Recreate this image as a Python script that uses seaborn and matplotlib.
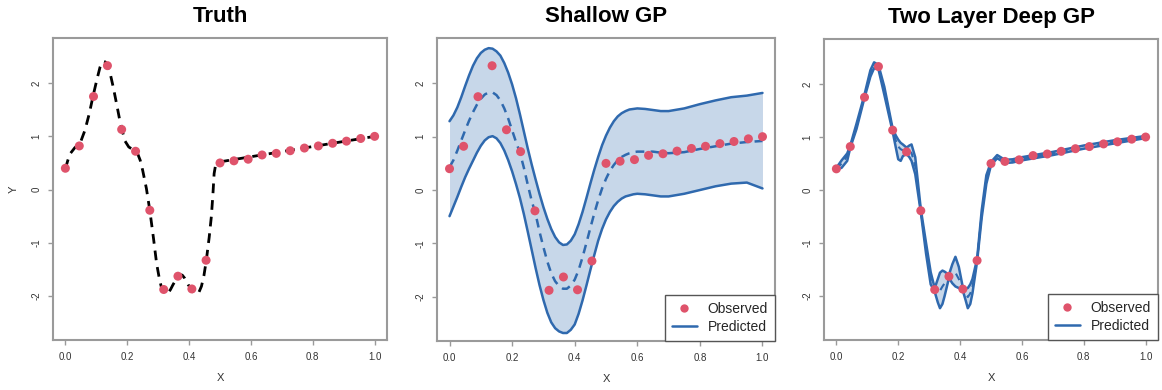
import numpy as np
import pandas as pd
import matplotlib
matplotlib.use("Agg")
import matplotlib.pyplot as plt
from matplotlib.lines import Line2D
import seaborn as sns

# ---------------- data ----------------
obs_x = [0.000, 0.045, 0.091, 0.136, 0.182, 0.227, 0.273, 0.318, 0.364, 0.409, 0.455, 0.500,
         0.545, 0.591, 0.636, 0.682, 0.727, 0.773, 0.818, 0.864, 0.909, 0.955, 1.000]
obs_y = [0.40, 0.82, 1.75, 2.33, 1.13, 0.72, -0.39, -1.88, -1.63, -1.87, -1.33, 0.50,
         0.54, 0.57, 0.65, 0.68, 0.73, 0.78, 0.82, 0.87, 0.91, 0.96, 1.00]

truth_x = [0.000, 0.008, 0.015, 0.031, 0.047, 0.063, 0.077, 0.090, 0.102, 0.112, 0.118, 0.123,
           0.129, 0.135, 0.145, 0.155, 0.166, 0.176, 0.192, 0.205, 0.219, 0.234, 0.242, 0.250,
           0.262, 0.273, 0.285, 0.295, 0.304, 0.311, 0.320, 0.332, 0.340, 0.348, 0.360, 0.370,
           0.378, 0.386, 0.397, 0.408, 0.417, 0.424, 0.432, 0.440, 0.448, 0.456, 0.465, 0.472,
           0.477, 0.481, 0.486, 0.499, 1.000]
truth_y = [0.39, 0.55, 0.67, 0.79, 0.86, 1.11, 1.42, 1.77, 2.07, 2.30, 2.38, 2.41,
           2.40, 2.36, 2.18, 1.92, 1.60, 1.30, 0.92, 0.80, 0.75, 0.67, 0.55, 0.36,
           0.02, -0.39, -0.92, -1.39, -1.68, -1.85, -1.95, -1.95, -1.88, -1.79, -1.67, -1.60,
           -1.61, -1.67, -1.79, -1.88, -1.95, -1.97, -1.93, -1.82, -1.62, -1.32, -0.90, -0.51,
           -0.10, 0.30, 0.47, 0.52, 1.00]

shallow_x = [0.0000, 0.0125, 0.0250, 0.0375, 0.0500, 0.0625, 0.0750, 0.0875, 0.1000, 0.1125,
             0.1250, 0.1375, 0.1500, 0.1625, 0.1750, 0.1875, 0.2000, 0.2125, 0.2250, 0.2375,
             0.2500, 0.2625, 0.2750, 0.2875, 0.3000, 0.3125, 0.3250, 0.3375, 0.3500, 0.3625,
             0.3750, 0.3875, 0.4000, 0.4125, 0.4250, 0.4375, 0.4500, 0.4625, 0.4750, 0.4875,
             0.5000, 0.5125, 0.5250, 0.5375, 0.5500, 0.5625, 0.5750, 0.5875, 0.6000, 0.6250,
             0.6500, 0.6750, 0.7000, 0.7500, 0.8000, 0.8500, 0.9000, 0.9500, 1.0000]
shallow_mean = [0.43, 0.56, 0.74, 0.93, 1.12, 1.30, 1.46, 1.60, 1.71, 1.79,
                1.83, 1.83, 1.78, 1.68, 1.53, 1.34, 1.12, 0.90, 0.70, 0.42,
                0.10, -0.20, -0.45, -0.78, -1.07, -1.34, -1.56, -1.71, -1.80, -1.85,
                -1.85, -1.79, -1.68, -1.50, -1.26, -0.99, -0.71, -0.44, -0.19, 0.03,
                0.21, 0.36, 0.47, 0.56, 0.62, 0.66, 0.69, 0.71, 0.72, 0.72,
                0.72, 0.70, 0.69, 0.71, 0.77, 0.82, 0.87, 0.90, 0.92]
shallow_upper = [1.29, 1.40, 1.55, 1.74, 1.95, 2.15, 2.33, 2.47, 2.57, 2.63,
                 2.66, 2.65, 2.60, 2.52, 2.38, 2.20, 1.98, 1.72, 1.42, 1.10,
                 0.78, 0.48, 0.20, -0.07, -0.32, -0.54, -0.73, -0.88, -0.98, -1.03,
                 -1.02, -0.95, -0.83, -0.64, -0.41, -0.15, 0.12, 0.38, 0.62, 0.84,
                 1.02, 1.17, 1.29, 1.38, 1.44, 1.48, 1.51, 1.52, 1.53, 1.52,
                 1.50, 1.48, 1.48, 1.53, 1.61, 1.68, 1.74, 1.77, 1.82]
shallow_lower = [-0.49, -0.31, -0.13, 0.06, 0.24, 0.40, 0.55, 0.70, 0.83, 0.93,
                 0.99, 1.01, 0.97, 0.88, 0.74, 0.56, 0.35, 0.11, -0.15, -0.45,
                 -0.78, -1.12, -1.46, -1.78, -2.06, -2.30, -2.48, -2.59, -2.65, -2.68,
                 -2.68, -2.62, -2.52, -2.32, -2.07, -1.79, -1.50, -1.22, -0.95, -0.73,
                 -0.55, -0.41, -0.30, -0.22, -0.16, -0.12, -0.10, -0.08, -0.07, -0.08,
                 -0.10, -0.12, -0.12, -0.07, 0.00, 0.07, 0.12, 0.14, 0.03]

deep_x = [0.000, 0.017, 0.035, 0.045, 0.065, 0.090, 0.110, 0.122, 0.136, 0.155, 0.182, 0.193,
          0.200, 0.208, 0.215, 0.227, 0.236, 0.243, 0.255, 0.273, 0.290, 0.305, 0.318, 0.328,
          0.335, 0.343, 0.350, 0.364, 0.375, 0.385, 0.396, 0.409, 0.418, 0.425, 0.433, 0.440,
          0.455, 0.470, 0.485, 0.500, 0.520, 0.545, 0.570, 0.600, 0.700, 0.800, 0.900, 1.000]
deep_mean = [0.40, 0.50, 0.64, 0.82, 1.20, 1.75, 2.20, 2.37, 2.33, 1.88, 1.13, 0.92,
             0.82, 0.77, 0.75, 0.72, 0.73, 0.70, 0.45, -0.39, -1.10, -1.66, -1.88, -1.94,
             -1.90, -1.82, -1.76, -1.63, -1.57, -1.56, -1.68, -1.87, -1.97, -2.02, -1.95, -1.83,
             -1.33, -0.45, 0.20, 0.50, 0.63, 0.54, 0.55, 0.59, 0.69, 0.81, 0.91, 1.00]
deep_upper = [0.42, 0.56, 0.69, 0.84, 1.25, 1.78, 2.26, 2.41, 2.36, 1.95, 1.16, 1.02,
              0.95, 0.89, 0.86, 0.80, 0.84, 0.86, 0.62, -0.36, -1.00, -1.55, -1.85, -1.68,
              -1.56, -1.52, -1.54, -1.60, -1.40, -1.26, -1.45, -1.84, -1.86, -1.85, -1.78, -1.68,
              -1.30, -0.38, 0.28, 0.53, 0.66, 0.57, 0.58, 0.62, 0.72, 0.84, 0.94, 1.02]
deep_lower = [0.38, 0.42, 0.55, 0.80, 1.15, 1.72, 2.14, 2.30, 2.28, 1.80, 1.10, 0.78,
              0.58, 0.55, 0.64, 0.68, 0.62, 0.55, 0.30, -0.42, -1.20, -1.78, -1.92, -2.12,
              -2.23, -2.15, -2.00, -1.66, -1.76, -1.82, -1.85, -1.90, -2.08, -2.23, -2.15, -1.95,
              -1.35, -0.52, 0.12, 0.47, 0.60, 0.51, 0.52, 0.56, 0.66, 0.78, 0.88, 0.98]

titles = ["Truth", "Shallow GP", "Two Layer Deep GP"]
x_ticks = [0.0, 0.2, 0.4, 0.6, 0.8, 1.0]
x_ticklabels = ["0.0", "0.2", "0.4", "0.6", "0.8", "1.0"]
y_ticks = [-2, -1, 0, 1, 2]
y_ticklabels = ["-2", "-1", "0", "1", "2"]
legend_labels = ["Observed", "Predicted"]

# ---------------- style ----------------
sns.set_style("white")
plt.rcParams['font.family'] = ['Liberation Sans', 'DejaVu Sans']

RED = "#DF536B"
BLUE = "#2F69AE"
FILL = "#C7D7E9"
FRAME = "#9A9A9A"

W, H = 1162, 390
fig = plt.figure(figsize=(W / 100, H / 100), dpi=100)
boxes = [(53, 38, 387, 340), (437, 38, 775, 341), (824, 39, 1158, 340)]
axes = []
for (l, t, r, b) in boxes:
    ax = fig.add_axes([l / W, 1 - b / H, (r - l) / W, (b - t) / H])
    axes.append(ax)

obs_df = pd.DataFrame({"x": obs_x, "y": obs_y})
DASH = (0, (3.5, 2.5))

# Panel 1: truth
ax = axes[0]
sns.lineplot(x=truth_x, y=truth_y, ax=ax, color="black", linewidth=2.0, linestyle=DASH,
             sort=False, estimator=None)
sns.scatterplot(data=obs_df, x="x", y="y", ax=ax, color=RED, s=42, edgecolor="none", zorder=5)

# Panel 2: shallow GP
ax = axes[1]
ax.fill_between(shallow_x, shallow_lower, shallow_upper, color=FILL, linewidth=0)
sns.lineplot(x=shallow_x, y=shallow_upper, ax=ax, color=BLUE, linewidth=1.8, estimator=None)
sns.lineplot(x=shallow_x, y=shallow_lower, ax=ax, color=BLUE, linewidth=1.8, estimator=None)
sns.lineplot(x=shallow_x, y=shallow_mean, ax=ax, color=BLUE, linewidth=1.8, linestyle=DASH,
             estimator=None)
sns.scatterplot(data=obs_df, x="x", y="y", ax=ax, color=RED, s=42, edgecolor="none", zorder=5)

# Panel 3: deep GP
ax = axes[2]
ax.fill_between(deep_x, deep_lower, deep_upper, color=FILL, linewidth=0)
sns.lineplot(x=deep_x, y=deep_upper, ax=ax, color=BLUE, linewidth=1.8, estimator=None)
sns.lineplot(x=deep_x, y=deep_lower, ax=ax, color=BLUE, linewidth=1.8, estimator=None)
sns.lineplot(x=deep_x, y=deep_mean, ax=ax, color=BLUE, linewidth=1.5, linestyle=DASH,
             estimator=None)
sns.scatterplot(data=obs_df, x="x", y="y", ax=ax, color=RED, s=42, edgecolor="none", zorder=5)

for i, ax in enumerate(axes):
    ax.set_xlim(-0.04, 1.04)
    ax.set_ylim(-2.83, 2.85)
    ax.set_xticks(x_ticks)
    ax.set_xticklabels(x_ticklabels)
    ax.set_yticks(y_ticks)
    ax.set_yticklabels(y_ticklabels, rotation=90, va="center")
    ax.tick_params(axis="both", direction="out", length=3.5, width=1.0, color=FRAME,
                   labelsize=7, labelcolor="#333333", pad=5, left=True, bottom=True)
    for sp in ax.spines.values():
        sp.set_color(FRAME)
        sp.set_linewidth(1.5)
    ax.set_xlabel("X", fontsize=8, color="#333333", labelpad=8)
    ax.set_ylabel("Y" if i == 0 else "", fontsize=8, color="#333333", labelpad=9)
    ax.grid(False)
    l, t, r, b = boxes[i]
    fig.text((l + r) / 2 / W, 1 - 17 / H, titles[i], fontsize=16, fontweight="bold",
             ha="center", va="center", color="black")

handles = [Line2D([], [], marker="o", linestyle="none", color=RED, markersize=6,
                  markeredgewidth=0),
           Line2D([], [], color=BLUE, linewidth=1.8)]
for ax in axes[1:]:
    leg = ax.legend(handles, legend_labels, loc="lower right", fontsize=10, frameon=True,
                    fancybox=False, edgecolor="#555555", framealpha=1, borderaxespad=0,
                    handlelength=1.8, borderpad=0.5, labelspacing=0.3, handletextpad=0.8)
    leg.get_frame().set_linewidth(1.0)

fig.savefig("out.png", dpi=100)
